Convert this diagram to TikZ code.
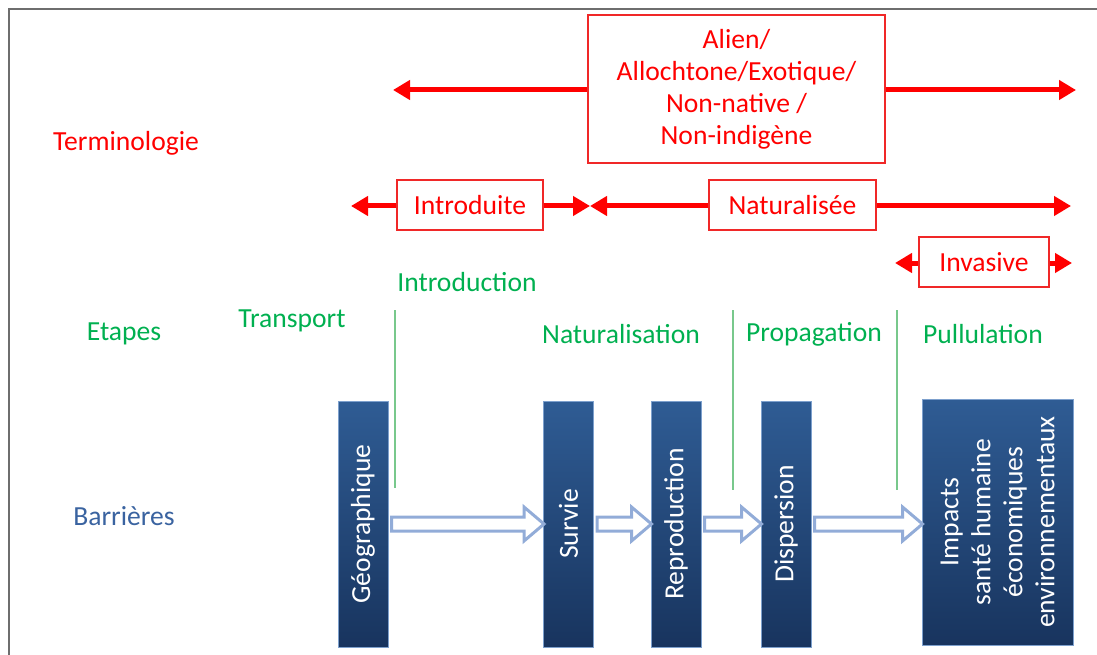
\documentclass[tikz,border=0pt]{standalone}
\usepackage{fontspec}
\setmainfont{Carlito}
\usetikzlibrary{arrows.meta,calc}
\definecolor{tred}{RGB}{255,0,0}
\definecolor{boxred}{RGB}{240,40,40}
\definecolor{tgreen}{RGB}{0,176,80}
\definecolor{lgreen}{RGB}{120,200,140}
\definecolor{tblue}{RGB}{58,99,160}
\definecolor{bartop}{RGB}{47,92,148}
\definecolor{barbot}{RGB}{24,52,94}
\definecolor{barborder}{RGB}{125,160,205}
\definecolor{harrowc}{RGB}{146,172,216}
\definecolor{framec}{RGB}{110,110,110}
\newcommand\hollowarr[2]{\draw[harr] let \p1=(#1.south), \p2=(#2.north) in
  (\x1+3pt,\y1+7pt) -- (\x2-19pt,\y1+7pt) -- (\x2-19pt,\y1+17pt) -- (\x2+1pt,\y1)
  -- (\x2-19pt,\y1-17pt) -- (\x2-19pt,\y1-7pt) -- (\x1+3pt,\y1-7pt) -- cycle;}
\begin{document}
\begin{tikzpicture}[x=1pt,y=-1pt,
  font=\fontsize{27.6}{32}\selectfont,
  termbox/.style={draw=boxred, line width=1.2pt, text=tred, inner sep=0pt, align=center},
  rarr/.style={-{Triangle[length=17pt,width=19pt]}, draw=tred, line width=5pt},
  rowlabel/.style={inner sep=0pt},
  stage/.style={text=tgreen, inner sep=0pt},
  stageline/.style={draw=lgreen, line width=1.2pt},
  bar/.style={rotate=90, draw=barborder, line width=1pt, top color=bartop, bottom color=barbot,
    text=white, align=center, inner sep=0pt, minimum width=246pt, minimum height=50pt},
  harr/.style={draw=harrowc, line width=3pt, fill=white, line join=miter}
]
\useasboundingbox (0,0) rectangle (1097,655);
% frame
\draw[framec, line width=2pt] (9,655) -- (9,9) -- (1097,9);

% row labels
\node[rowlabel, text=tred] (lterm) at (126,143) {Terminologie};
\node[rowlabel, text=tgreen] (letap) at (124,334) {Etapes};
\node[rowlabel, text=tblue] (lbarr) at (124,516) {Barrières};

% terminology
\node[termbox, minimum width=297pt, minimum height=148pt] (alien) at (736.5,89)
  {Alien/\\Allochtone/Exotique/\\Non-native /\\Non-indigène};
\node[termbox, minimum width=146pt, minimum height=50pt] (intro) at (470,205) {Introduite};
\node[termbox, minimum width=167pt, minimum height=50pt] (natur) at (792.5,205) {Naturalisée};
\node[termbox, minimum width=130pt, minimum height=50pt] (invas) at (984,262) {Invasive};

\coordinate (aL) at (393,90);
\coordinate (aR) at (1076,90);
\coordinate (iL) at (351,206);
\coordinate (iM) at (590,206);
\coordinate (nR) at (1071,206);
\coordinate (vL) at (895,263);
\coordinate (vR) at (1072,263);

\draw[rarr] (alien.west |- aL) -- (aL);
\draw[rarr] (alien.east |- aR) -- (aR);
\draw[rarr] (intro.west |- iL) -- (iL);
\draw[rarr] (intro.east |- iM) -- (iM);
\draw[rarr] (natur.west |- iM) -- (iM);
\draw[rarr] (natur.east |- nR) -- (nR);
\draw[rarr] (invas.west |- vL) -- (vL);
\draw[rarr] (invas.east |- vR) -- (vR);

% stages
\node[stage] (sintro) at (467,282) {Introduction};
\node[stage] (strans) at (292,321) {Transport};
\node[stage] (snatur) at (621,334) {Naturalisation};
\node[stage] (sprop) at (814,334) {Propagation};
\node[stage] (spull) at (983,334) {Pullulation};
\draw[stageline] (395,310) -- (395,488);
\draw[stageline] (733,310) -- (733,490);
\draw[stageline] (897,310) -- (897,490);

% barriers
\node[bar] (geo) at (363,524) {Géographique};
\node[bar] (surv) at (568.5,524) {Survie};
\node[bar] (repro) at (676,524) {Reproduction};
\node[bar] (disp) at (786,524) {Dispersion};
\node[bar, minimum height=151pt] (imp) at (997.5,522)
  {Impacts\\santé humaine\\économiques\\environnementaux};

\hollowarr{geo}{surv}
\hollowarr{surv}{repro}
\hollowarr{repro}{disp}
\hollowarr{disp}{imp}
\end{tikzpicture}
\end{document}
